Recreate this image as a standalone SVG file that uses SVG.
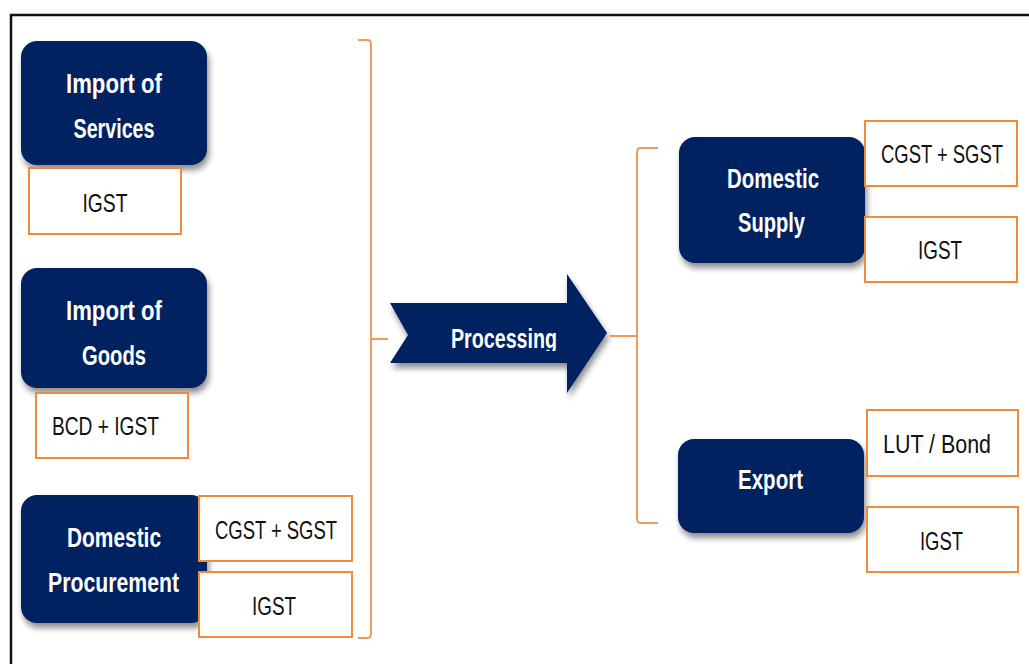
<svg xmlns="http://www.w3.org/2000/svg" width="1029" height="664" viewBox="0 0 1029 664">
<style>
.node{fill:#002060;filter:url(#sh)}
.tax{fill:#fff;stroke:#F08A3C;stroke-width:2}
.wt{font-family:"Liberation Sans Narrow","Liberation Sans",Arial,sans-serif;font-weight:bold;font-size:27px;fill:#fff;text-anchor:middle}
.bt{font-family:"Liberation Sans Narrow","Liberation Sans",Arial,sans-serif;font-size:26px;fill:#111;text-anchor:middle}
.brace{fill:none;stroke:#F29A58;stroke-width:2}
</style>
<defs>
<filter id="sh" x="-10%" y="-10%" width="130%" height="140%">
<feGaussianBlur in="SourceAlpha" stdDeviation="3"/>
<feOffset dx="2" dy="5" result="b"/>
<feComponentTransfer><feFuncA type="linear" slope="0.45"/></feComponentTransfer>
<feMerge><feMergeNode/><feMergeNode in="SourceGraphic"/></feMerge>
</filter>
<clipPath id="pc"><rect x="380" y="270" width="240" height="81"/></clipPath>
</defs>
<rect width="1029" height="664" fill="#fff"/>
<path d="M11,664 V15 H1029" fill="none" stroke="#111" stroke-width="2.5"/>

<g id="connectors">
<path class="brace" d="M358,40 H367 Q371,40 371,44 V634 Q371,638 367,638 H358 M371,339 H388"/>
<path class="brace" d="M658,148 H641 Q637,148 637,152 V519 Q637,523 641,523 H658 M637,336 H610"/>
</g>

<g id="import-services">
<rect class="node" x="21" y="41" width="186" height="124" rx="16"/>
<text class="wt" x="114" y="93" textLength="96" lengthAdjust="spacingAndGlyphs">Import of</text>
<text class="wt" x="114" y="138" textLength="81" lengthAdjust="spacingAndGlyphs">Services</text>
</g>
<g id="igst-services">
<rect class="tax" x="29" y="168" width="152" height="66"/>
<text class="bt" x="105" y="212" textLength="45" lengthAdjust="spacingAndGlyphs">IGST</text>
</g>

<g id="import-goods">
<rect class="node" x="21" y="268" width="186" height="120" rx="16"/>
<text class="wt" x="114" y="320" textLength="96" lengthAdjust="spacingAndGlyphs">Import of</text>
<text class="wt" x="114" y="365" textLength="64" lengthAdjust="spacingAndGlyphs">Goods</text>
</g>
<g id="bcd-igst">
<rect class="tax" x="36" y="393" width="152" height="65"/>
<text class="bt" x="105.5" y="435" textLength="107" lengthAdjust="spacingAndGlyphs">BCD + IGST</text>
</g>

<g id="domestic-procurement">
<rect class="node" x="21" y="495" width="186" height="128" rx="16"/>
<text class="wt" x="114" y="547" textLength="94" lengthAdjust="spacingAndGlyphs">Domestic</text>
<text class="wt" x="113.5" y="592" textLength="131" lengthAdjust="spacingAndGlyphs">Procurement</text>
</g>
<g id="cgst-sgst-proc">
<rect class="tax" x="199" y="496" width="153" height="65"/>
<text class="bt" x="276" y="539" textLength="122" lengthAdjust="spacingAndGlyphs">CGST + SGST</text>
</g>
<g id="igst-proc">
<rect class="tax" x="199" y="572" width="153" height="65"/>
<text class="bt" x="274" y="615" textLength="44" lengthAdjust="spacingAndGlyphs">IGST</text>
</g>

<g id="processing">
<path class="node" d="M390,303 H567 V274 L607,333 L567,393 V363 H390 L408,335 Z"/>
<text class="wt" x="504" y="348" textLength="106" lengthAdjust="spacingAndGlyphs" clip-path="url(#pc)">Processing</text>
</g>

<g id="domestic-supply">
<rect class="node" x="679" y="137" width="186" height="126" rx="16"/>
<text class="wt" x="773" y="188" textLength="92" lengthAdjust="spacingAndGlyphs">Domestic</text>
<text class="wt" x="771.5" y="232" textLength="67" lengthAdjust="spacingAndGlyphs">Supply</text>
</g>
<g id="cgst-sgst-supply">
<rect class="tax" x="865" y="121" width="152" height="65"/>
<text class="bt" x="942" y="163" textLength="122" lengthAdjust="spacingAndGlyphs">CGST + SGST</text>
</g>
<g id="igst-supply">
<rect class="tax" x="865" y="217" width="152" height="65"/>
<text class="bt" x="940" y="259" textLength="44" lengthAdjust="spacingAndGlyphs">IGST</text>
</g>

<g id="export">
<rect class="node" x="678" y="439" width="186" height="94" rx="16"/>
<text class="wt" x="770.5" y="489" textLength="65" lengthAdjust="spacingAndGlyphs">Export</text>
</g>
<g id="lut-bond">
<rect class="tax" x="867" y="410" width="151" height="66"/>
<text class="bt" x="937" y="453" textLength="108" lengthAdjust="spacingAndGlyphs">LUT / Bond</text>
</g>
<g id="igst-export">
<rect class="tax" x="867" y="507" width="151" height="65"/>
<text class="bt" x="941.5" y="550" textLength="43" lengthAdjust="spacingAndGlyphs">IGST</text>
</g>
</svg>
